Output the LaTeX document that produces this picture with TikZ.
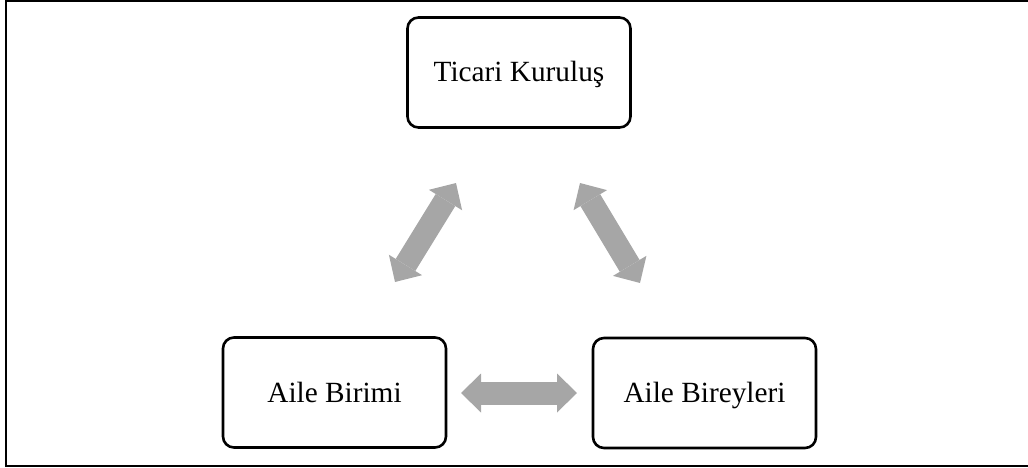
\documentclass[tikz,border=0pt]{standalone}
\usepackage{fontspec}
\setmainfont{Liberation Serif}
\usetikzlibrary{arrows.meta}
\definecolor{arrowgray}{HTML}{A6A6A6}
\tikzset{
  box/.style={draw=black, line width=2.6pt, rounded corners=11pt, fill=white,
    minimum width=223pt, minimum height=110pt, inner sep=0pt,
    text height=19pt, text depth=0pt,
    font=\fontsize{29.3}{34}\selectfont},
  bigarrow/.style={draw=arrowgray, line width=23pt,
    {Triangle[width=39pt,length=20pt,line width=0pt]}-{Triangle[width=39pt,length=20pt,line width=0pt]}}
}
\begin{document}
\begin{tikzpicture}[x=1pt,y=-1pt]
\useasboundingbox (0,0) rectangle (1028,468);
\draw[line width=2pt] (6,0.8) rectangle (1029,466);
\node[box] (tk) at (519,72.5) {Ticari Kuruluş};
\node[box] (ab) at (334.5,392.5) {Aile Birimi};
\node[box] (ay) at (704.5,393) {Aile Bireyleri};
\coordinate (l1) at (395,282);
\coordinate (l2) at (456,183);
\coordinate (r1) at (580,183);
\coordinate (r2) at (640,283);
\coordinate (h1) at (461,393);
\coordinate (h2) at (577,393);
\draw[bigarrow] (l1) -- (l2);
\draw[bigarrow] (r1) -- (r2);
\draw[bigarrow] (h1) -- (h2);
\end{tikzpicture}
\end{document}
